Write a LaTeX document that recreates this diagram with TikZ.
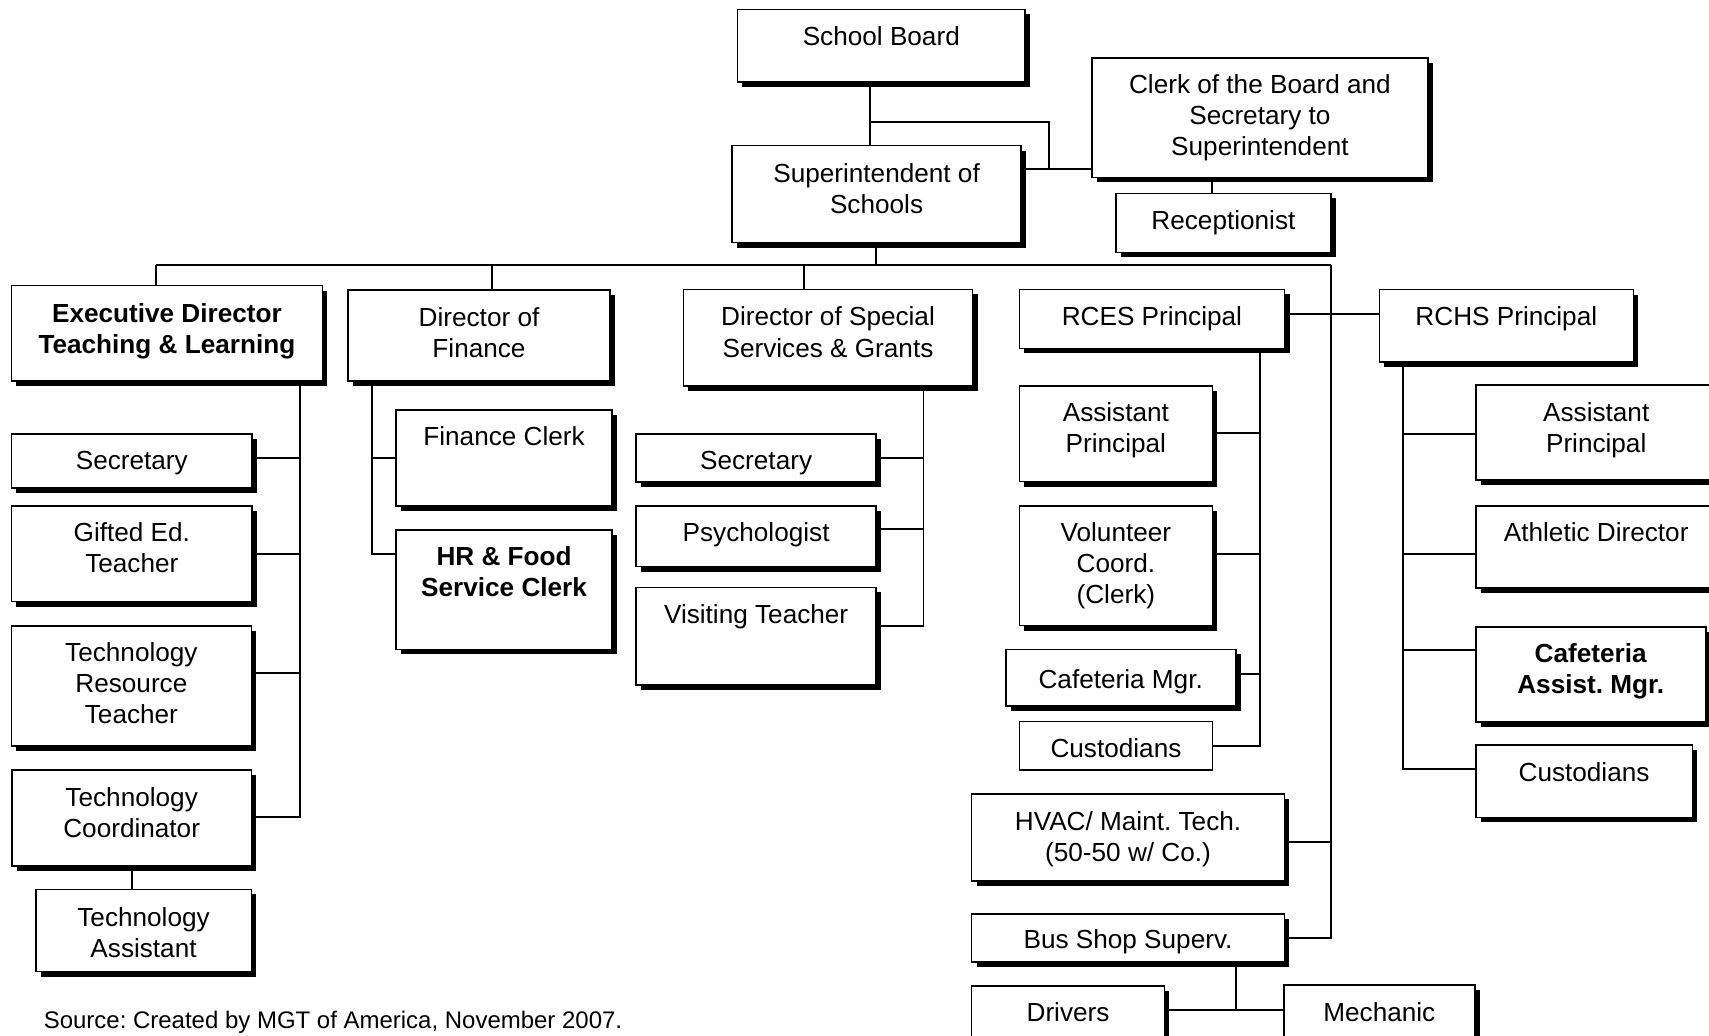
\documentclass[tikz,border=0pt]{standalone}
\usepackage{fontspec}
\setmainfont{Liberation Sans}
\usetikzlibrary{shadows,backgrounds}
\frenchspacing

% text face used inside every position box
\newcommand\boxfont{\fontsize{24}{28.5}\selectfont}

\tikzset{
  boxbase/.style={draw, fill=white, line width=1.5pt, inner sep=0pt, outer sep=0pt, anchor=north west},
  orgbox/.style={boxbase, general shadow={fill=black, shadow xshift=4.6pt, shadow yshift=-4.6pt}},
  flatbox/.style={boxbase},
  link/.style={line width=1.8pt},
}

% \obox[style]{name}{x1}{y1}{x2}{y2}{centre of first text line}{text}
\newcommand\obox[8][orgbox]{%
  \node[#1] (#2) at (#3,#4)
    {\parbox[c][\dimexpr #6pt-#4pt\relax][t]{\dimexpr #5pt-#3pt\relax}%
      {\boxfont\centering\rule{0pt}{\dimexpr #7pt-#4pt+8.6pt\relax}#8\par}};%
}

\begin{document}
\begin{tikzpicture}[x=1pt, y=-1pt]
\useasboundingbox (0,0) rectangle (1568,950);

% ---- board and superintendent
\obox{board}{676.5}{8.6}{940.7}{75}{33.5}{School Board}
\obox{clerk}{1002}{53}{1310}{162.7}{77}{Clerk of the Board and\\Secretary to\\Superintendent}
\obox{super}{671.5}{133.5}{937}{222.5}{158.5}{Superintendent of\\Schools}
\obox{recep}{1024}{177.5}{1221}{231.5}{202}{Receptionist}

% ---- second level
\obox{execd}{10.5}{262.1}{295.8}{349.6}{287}{\textbf{Executive Director}\\\textbf{Teaching \& Learning}}
\obox{fin}{319.1}{266.1}{559.9}{349.6}{290.5}{Director of\\Finance}
\obox{spec}{627}{265.5}{892.4}{354.2}{290.5}{Director of Special\\Services \& Grants}
\obox{rces}{935.3}{265.5}{1178.5}{319.6}{290.5}{RCES Principal}
\obox{rchs}{1265.5}{265.7}{1498.6}{332.1}{290}{RCHS Principal}

% ---- teaching & learning staff
\obox{sec1}{10.5}{398.2}{231.4}{448}{422}{Secretary}
\obox{gifted}{10.5}{464.3}{231.4}{552}{488}{Gifted Ed.\\Teacher}
\obox{techres}{10.5}{574.4}{230.6}{684.5}{598.5}{Technology\\Resource\\Teacher}
\obox{techco}{11}{706.5}{230.6}{794.3}{731}{Technology\\Coordinator}
\obox{techas}{32.8}{816}{230.6}{891.5}{841}{Technology\\Assistant}

% ---- finance staff
\obox{finclerk}{363.3}{376.2}{561.7}{464.3}{400}{Finance Clerk}
\obox{hr}{363.3}{486.3}{561.7}{595.8}{510}{\textbf{HR \& Food}\\\textbf{Service Clerk}}

% ---- special services staff
\obox{sec2}{583.6}{398.2}{803.9}{442.2}{422}{Secretary}
\obox{psych}{583.6}{464.3}{803.9}{519.9}{488}{Psychologist}
\obox{visit}{583.6}{538.9}{803.9}{628.5}{563.5}{Visiting Teacher}

% ---- RCES staff
\obox{ap1}{935.3}{354.2}{1112.3}{441.9}{378}{Assistant\\Principal}
\obox{vol}{935.3}{464.3}{1112.3}{574}{488}{Volunteer\\Coord.\\(Clerk)}
\obox{cafm}{922.7}{595.8}{1133.8}{647.5}{623}{Cafeteria Mgr.}
\obox[flatbox]{cust1}{935.5}{662.1}{1112.3}{706.5}{686}{Custodians}

% ---- maintenance and transportation
\obox{hvac}{891.5}{728.5}{1178.4}{808.3}{753}{HVAC/ Maint. Tech.\\(50-50 w/ Co.)}
\obox{bus}{891.5}{838.6}{1178.4}{882.9}{862}{Bus Shop Superv.}
\obox{drivers}{891.5}{904.6}{1068.3}{985}{928.5}{Drivers}
\obox{mech}{1177.8}{903.7}{1353.3}{985}{928.5}{Mechanic}

% ---- RCHS staff
\obox{ap2}{1354}{353.2}{1575}{440.4}{378}{Assistant\\Principal}
\obox{athletic}{1354}{464}{1575}{539.4}{488.5}{Athletic Director}
\obox{cafa}{1354}{575.3}{1565}{662.3}{599}{\textbf{Cafeteria}\\\textbf{Assist. Mgr.}}
\obox{cust2}{1354}{683.5}{1552.7}{750}{708}{Custodians}

% ---- source note
\node[anchor=base west, inner sep=0pt, font=\fontsize{22}{26}\selectfont] (src)
  at (40,943.4) {Source: Created by MGT of America, November 2007.};

% ---- reporting lines
\begin{scope}[on background layer]
  \fill[white] (0,0) rectangle (1568,950);

  % board, superintendent, clerk, receptionist
  \coordinate (sbx) at (798.4,112.2);
  \coordinate (ck) at (962.1,155.1);
  \coordinate (rx) at (1112,0);
  \draw[link] (board.south -| sbx) -- (super.north -| sbx);
  \draw[link] (sbx) -| (ck);
  \draw[link] (super.east |- ck) -- (clerk.west |- ck);
  \draw[link] (clerk.south -| rx) -- (recep.north -| rx);

  % main bus and trunk
  \coordinate (sx) at (804,243);
  \coordinate (busL) at (143.4,243);
  \coordinate (busR) at (1221.5,243);
  \coordinate (fx) at (451.3,243);
  \coordinate (px) at (737.4,243);
  \coordinate (rr) at (1221.5,288);
  \coordinate (hv) at (1221.5,772.2);
  \draw[link] (super.south -| sx) -- (sx);
  \draw[link] (busL) -- (busR);
  \draw[link] (busL) -- (execd.north -| busL);
  \draw[link] (fx) -- (fin.north -| fx);
  \draw[link] (px) -- (spec.north -| px);
  \draw[link] (busR) |- (bus.east);
  \draw[link] (hvac.east |- hv) -- (hv);
  \draw[link] (rces.east |- rr) -- (rchs.west |- rr);

  % teaching & learning
  \coordinate (ex) at (275.3,749.9);
  \draw[link] (execd.south -| ex) -- (ex) -- (techco.east |- ex);
  \foreach \n/\y in {sec1/419.9, gifted/508.3, techres/617.8}
    \draw[link] (\n.east |- 0,\y) -- (ex |- 0,\y);
  \coordinate (tx) at (121.3,0);
  \draw[link] (techco.south -| tx) -- (techas.north -| tx);

  % finance
  \coordinate (fv) at (341.2,508.3);
  \draw[link] (fin.south -| fv) -- (fv) -- (hr.west |- fv);
  \draw[link] (finclerk.west |- 0,419.9) -- (fv |- 0,419.9);

  % special services
  \coordinate (pv) at (847.3,574.4);
  \draw[link] (spec.south -| pv) -- (pv) -- (visit.east |- pv);
  \foreach \n/\y in {sec2/419.9, psych/485.7}
    \draw[link] (\n.east |- 0,\y) -- (pv |- 0,\y);

  % RCES
  \coordinate (cv) at (1155.7,684.5);
  \draw[link] (rces.south -| cv) -- (cv) -- (cust1.east |- cv);
  \foreach \n/\y in {ap1/397.6, vol/508.3, cafm/618.7}
    \draw[link] (\n.east |- 0,\y) -- (cv |- 0,\y);

  % RCHS
  \coordinate (hv2) at (1287.6,705.8);
  \draw[link] (rchs.south -| hv2) -- (hv2) -- (cust2.west |- hv2);
  \foreach \n/\y in {ap2/398.5, athletic/508.3, cafa/596.8}
    \draw[link] (\n.west |- 0,\y) -- (hv2 |- 0,\y);

  % bus shop
  \coordinate (bx) at (1134.1,926.7);
  \draw[link] (bus.south -| bx) -- (bx);
  \draw[link] (drivers.east |- bx) -- (mech.west |- bx);
\end{scope}
\end{tikzpicture}
\end{document}
